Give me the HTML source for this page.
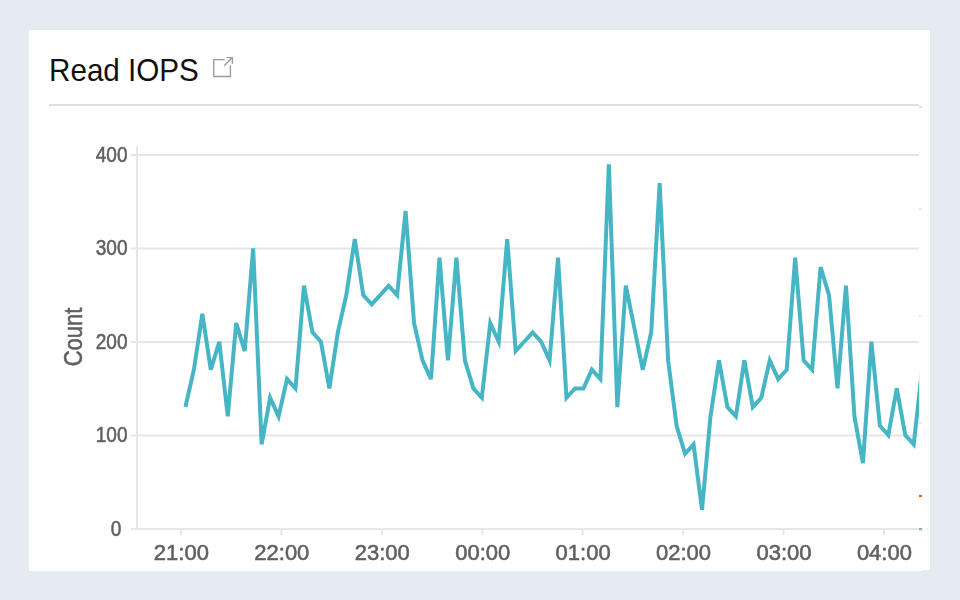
<!DOCTYPE html>
<html><head><meta charset="utf-8">
<style>
html,body{margin:0;padding:0;}
body{width:960px;height:600px;background:#e6eaf1;position:relative;overflow:hidden;font-family:"Liberation Sans",sans-serif;}
.card{position:absolute;left:29px;top:30px;width:901px;height:540px;background:#fff;}
svg{position:absolute;left:0;top:0;}
.gl{will-change:transform;}
</style></head><body>
<div class="card"></div>
<svg width="960" height="600" viewBox="0 0 960 600">
<text transform="translate(49.0,81.0) scale(0.938,1)" font-family="Liberation Sans" font-size="31.6" fill="#111111" stroke="#111111" stroke-width="0.0">Read IOPS</text>
</svg>
<svg class="gl" width="960" height="600" viewBox="0 0 960 600">
<defs><clipPath id="c"><rect x="0" y="0" width="919.2" height="600"/></clipPath></defs>
<rect x="29" y="570" width="893" height="1" fill="#fff" fill-opacity="0.85"/>
<g fill="none" stroke="#9b9b9b" stroke-width="1.35">
<path d="M224.75 59.6 H213.75 V76.5 H230.4 V65.25"/>
<path d="M224.2 65.7 L232.1 57.8"/>
<path d="M226.75 57.6 H232.4 V63.75"/>
</g>
<rect x="49" y="104" width="869.8" height="2" fill="#e0e0e0"/>
<rect x="919" y="106" width="3" height="2" fill="#e2e2e2"/>
<rect x="919" y="208" width="3" height="2" fill="#ececec"/>
<rect x="919" y="315" width="3" height="2" fill="#ececec"/>
<rect x="919" y="422" width="3" height="2" fill="#ececec"/>
<rect x="919" y="495" width="3" height="2" fill="#d8661e"/>
<rect x="919" y="528" width="3" height="1" fill="#5cc3cf"/>
<rect x="919" y="529" width="3" height="1" fill="#e3a060"/>
<rect x="919" y="530" width="3" height="2" fill="#eeeeee"/>
<rect x="131" y="434.50" width="788" height="2" fill="#e6e6e6"/>
<rect x="131" y="341.00" width="788" height="2" fill="#e6e6e6"/>
<rect x="131" y="247.50" width="788" height="2" fill="#e6e6e6"/>
<rect x="131" y="154.00" width="788" height="2" fill="#e6e6e6"/>

<rect x="136" y="146" width="2" height="383" fill="#e6e6e6"/>
<rect x="131" y="528" width="787.8" height="2" fill="#e6e6e6"/>
<rect x="180.00" y="530" width="2" height="5" fill="#e6e6e6"/>
<rect x="280.43" y="530" width="2" height="5" fill="#e6e6e6"/>
<rect x="380.86" y="530" width="2" height="5" fill="#e6e6e6"/>
<rect x="481.29" y="530" width="2" height="5" fill="#e6e6e6"/>
<rect x="581.72" y="530" width="2" height="5" fill="#e6e6e6"/>
<rect x="682.15" y="530" width="2" height="5" fill="#e6e6e6"/>
<rect x="782.58" y="530" width="2" height="5" fill="#e6e6e6"/>
<rect x="883.01" y="530" width="2" height="5" fill="#e6e6e6"/>

<g font-family="Liberation Sans" font-size="21.2" fill="#606060" stroke="#606060" stroke-width="0.55">
<text transform="translate(121.4,535.70) scale(0.9,1)" text-anchor="end">0</text>
<text transform="translate(127.5,442.20) scale(0.9,1)" text-anchor="end">100</text>
<text transform="translate(127.5,348.70) scale(0.9,1)" text-anchor="end">200</text>
<text transform="translate(127.5,255.20) scale(0.9,1)" text-anchor="end">300</text>
<text transform="translate(127.5,161.70) scale(0.9,1)" text-anchor="end">400</text>

</g>
<g font-family="Liberation Sans" font-size="22.0" fill="#606060" stroke="#606060" stroke-width="0.55">
<text transform="translate(181.40,560.1) scale(1.0,1)" text-anchor="middle">21:00</text>
<text transform="translate(281.83,560.1) scale(1.0,1)" text-anchor="middle">22:00</text>
<text transform="translate(382.26,560.1) scale(1.0,1)" text-anchor="middle">23:00</text>
<text transform="translate(482.69,560.1) scale(1.0,1)" text-anchor="middle">00:00</text>
<text transform="translate(583.12,560.1) scale(1.0,1)" text-anchor="middle">01:00</text>
<text transform="translate(683.55,560.1) scale(1.0,1)" text-anchor="middle">02:00</text>
<text transform="translate(783.98,560.1) scale(1.0,1)" text-anchor="middle">03:00</text>
<text transform="translate(884.41,560.1) scale(1.0,1)" text-anchor="middle">04:00</text>

</g>
<text font-family="Liberation Sans" font-size="25.0" fill="#606060" stroke="#606060" stroke-width="0.55" text-anchor="middle" transform="translate(82.0,337.0) rotate(-90) scale(0.88,1)">Count</text>
<g clip-path="url(#c)">
<polyline points="185.40,407.06 193.87,369.72 202.34,313.72 210.81,369.72 219.28,341.72 227.75,416.39 236.21,323.05 244.68,351.05 253.15,248.38 261.62,444.39 270.09,397.72 278.56,416.39 287.03,379.06 295.50,388.39 303.97,285.72 312.44,332.39 320.90,341.72 329.37,388.39 337.84,332.39 346.31,295.05 354.78,239.05 363.25,295.05 371.72,304.38 380.19,295.05 388.66,285.72 397.12,295.05 405.59,211.04 414.06,323.05 422.53,360.39 431.00,379.06 439.47,257.71 447.94,360.39 456.41,257.71 464.88,360.39 473.35,388.39 481.81,397.72 490.28,323.05 498.75,341.72 507.22,239.05 515.69,351.05 524.16,341.72 532.63,332.39 541.10,341.72 549.57,360.39 558.04,257.71 566.50,397.72 574.97,388.39 583.44,388.39 591.91,369.72 600.38,379.06 608.85,164.37 617.32,407.06 625.79,285.72 634.26,327.72 642.73,369.72 651.19,332.39 659.66,183.04 668.13,360.39 676.60,425.73 685.07,453.73 693.54,444.39 702.01,509.73 710.48,416.39 718.95,360.39 727.42,407.06 735.88,416.39 744.35,360.39 752.82,407.06 761.29,397.72 769.76,360.39 778.23,379.06 786.70,369.72 795.17,257.71 803.64,360.39 812.11,369.72 820.57,267.05 829.04,295.05 837.51,388.39 845.98,285.72 854.45,416.39 862.92,463.06 871.39,341.72 879.86,425.73 888.33,435.06 896.80,388.39 905.26,435.06 913.73,444.39 922.20,367.86" fill="none" stroke="#46b6c5" stroke-width="4" stroke-linejoin="miter" stroke-miterlimit="4"/>
</g>
</svg>
</body></html>
